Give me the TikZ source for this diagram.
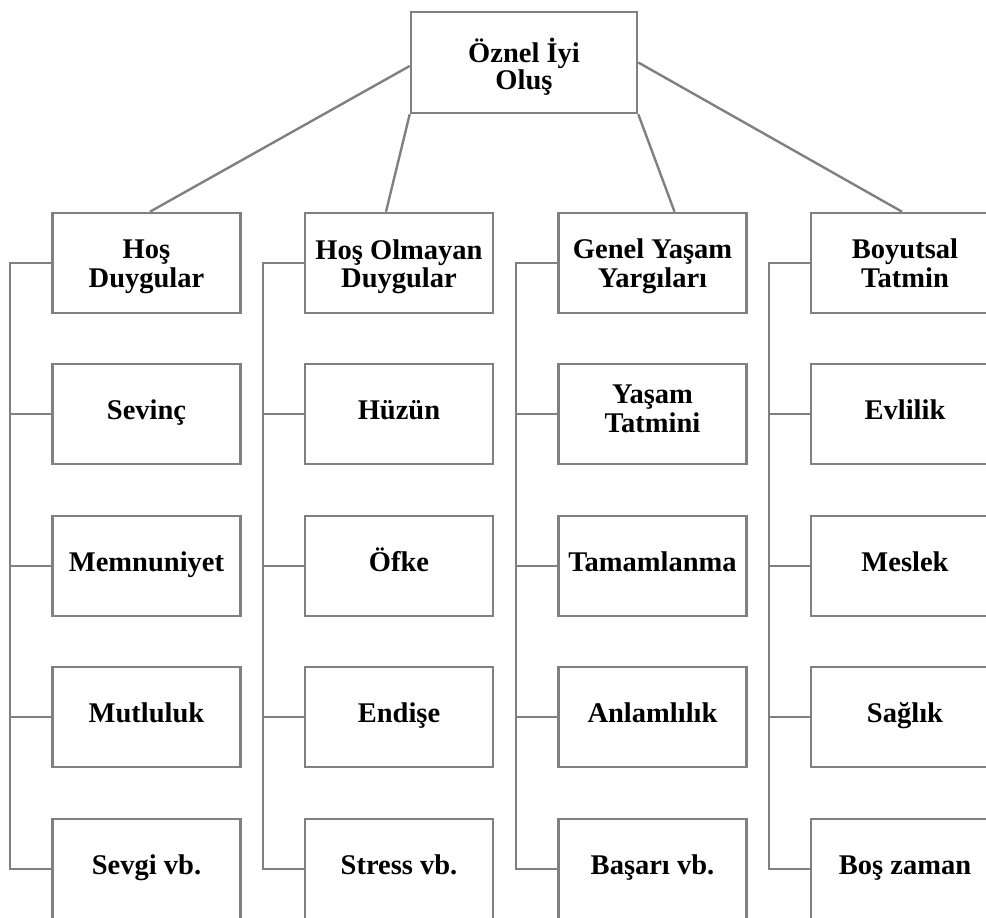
\documentclass[tikz,border=0pt]{standalone}
\usepackage{fontspec}
\setmainfont{Liberation Serif}
\usetikzlibrary{calc}
\definecolor{linegray}{RGB}{128,128,128}
\begin{document}
\begin{tikzpicture}[x=1pt,y=-1pt,
  box/.style={draw=linegray, line width=2.6pt, fill=white,
    minimum width=188pt, minimum height=100pt, inner sep=2pt,
    align=center, font=\fontsize{28.5}{28.5}\selectfont\bfseries},
  % last baseline placed #1 below the box centre
  based/.style={box, text height={40pt+#1}, text depth={40pt-#1}},
  single/.style={based=5pt},
  link/.style={draw=linegray, line width=2.4pt}]
\useasboundingbox (0,0) rectangle (986,918);
\clip (0,0) rectangle (986,918);

% root
\node[based=26.5pt, minimum width=226pt, minimum height=101pt,
      font=\fontsize{28.5}{26.5}\selectfont\bfseries] (root) at (524,62.5) {Öznel İyi\\Oluş};

% column 1
\node[based=24pt] (n11) at (146.5,263) {Hoş\\Duygular};
\node[single] (n12) at (146.5,414) {Sevinç};
\node[single] (n13) at (146.5,566) {Memnuniyet};
\node[single] (n14) at (146.5,717) {Mutluluk};
\node[single] (n15) at (146.5,869) {Sevgi vb.};

% column 2
\node[based=24.5pt] (n21) at (399,263) {Hoş Olmayan\\Duygular};
\node[single] (n22) at (399,414) {Hüzün};
\node[single] (n23) at (399,566) {Öfke};
\node[single] (n24) at (399,717) {Endişe};
\node[single] (n25) at (399,869) {Stress vb.};

% column 3
\node[based=24pt] (n31) at (652.5,263) {Genel Yaşam\\Yargıları};
\node[based=18pt] (n32) at (652.5,414) {Yaşam\\Tatmini};
\node[single] (n33) at (652.5,566) {Tamamlanma};
\node[single] (n34) at (652.5,717) {Anlamlılık};
\node[single] (n35) at (652.5,869) {Başarı vb.};

% column 4
\node[based=24pt] (n41) at (905,263) {Boyutsal\\Tatmin};
\node[single] (n42) at (905,414) {Evlilik};
\node[single] (n43) at (905,566) {Meslek};
\node[single] (n44) at (905,717) {Sağlık};
\node[single] (n45) at (905,869) {Boş zaman};

% root to column heads
\draw[link] ([yshift=-3.5pt]root.west) -- ([xshift=3.5pt]n11.north);
\draw[link] (root.south west) -- ([xshift=-13pt]n21.north);
\draw[link] (root.south east) -- ([xshift=22pt]n31.north);
\draw[link] (root.east) -- ([xshift=-3pt]n41.north);

% vertical buses on the left of each column
\foreach \c in {1,...,4} {
  \draw[link] (n\c1.west) -- ++(-41,0) |- (n\c5.west);
  \foreach \r in {2,3,4}
    \draw[link] (n\c\r.west) -- ++(-41,0);
}
\end{tikzpicture}
\end{document}
